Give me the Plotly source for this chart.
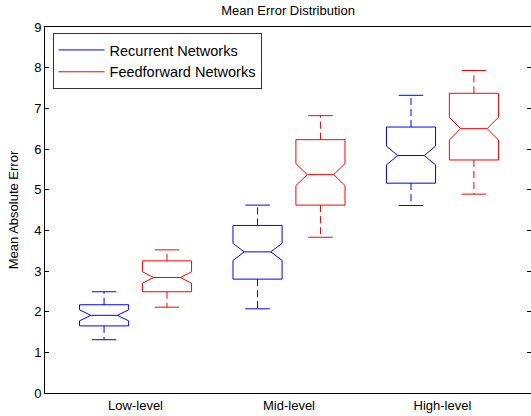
import plotly.graph_objects as go

categories = ["Low-level", "Mid-level", "High-level"]
series_names = ["Recurrent Networks", "Feedforward Networks"]
series_colors = ["#0000FF", "#FF0000"]

# Recurrent Networks
rec_lower = [1.31, 2.07, 4.61]
rec_q1 = [1.65, 2.80, 5.16]
rec_median = [1.91, 3.47, 5.84]
rec_q3 = [2.17, 4.12, 6.54]
rec_upper = [2.49, 4.62, 7.32]
rec_notch = [0.135, 0.21, 0.23]

# Feedforward Networks
ff_lower = [2.11, 3.83, 4.89]
ff_q1 = [2.49, 4.62, 5.73]
ff_median = [2.84, 5.37, 6.50]
ff_q3 = [3.25, 6.23, 7.37]
ff_upper = [3.52, 6.82, 7.93]
ff_notch = [0.14, 0.27, 0.28]

series = [
    (rec_lower, rec_q1, rec_median, rec_q3, rec_upper, rec_notch),
    (ff_lower, ff_q1, ff_median, ff_q3, ff_upper, ff_notch),
]

FONT = "Liberation Sans, Arial, sans-serif"
offsets = [-0.205, 0.205]
half_w = 0.16
indent = 0.46 * half_w
cap_w = 0.5 * half_w

fig = go.Figure()
for s, (lo, q1, med, q3, hi, nt) in enumerate(series):
    color = series_colors[s]
    xs, ys = [], []
    wx, wy = [], []
    for i in range(len(categories)):
        c = i + 1 + offsets[s]
        L, R = c - half_w, c + half_w
        # notched outline
        xs += [L, L, L + indent, L, L, R, R, R - indent, R, R, L, None]
        ys += [q1[i], med[i] - nt[i], med[i], med[i] + nt[i], q3[i], q3[i],
               med[i] + nt[i], med[i], med[i] - nt[i], q1[i], q1[i], None]
        # median
        xs += [L + indent, R - indent, None]
        ys += [med[i], med[i], None]
        # caps
        xs += [c - cap_w, c + cap_w, None, c - cap_w, c + cap_w, None]
        ys += [hi[i], hi[i], None, lo[i], lo[i], None]
        # whiskers (dashed)
        wx += [c, c, None, c, c, None]
        wy += [q3[i], hi[i], None, q1[i], lo[i], None]
    fig.add_trace(go.Scatter(x=xs, y=ys, mode="lines", name=series_names[s],
                             line=dict(color=color, width=1), hoverinfo="skip"))
    fig.add_trace(go.Scatter(x=wx, y=wy, mode="lines", showlegend=False,
                             line=dict(color=color, width=1, dash="7px,4px"),
                             hoverinfo="skip"))

fig.update_layout(
    width=531, height=416,
    margin=dict(l=45, r=0, t=27, b=23),
    paper_bgcolor="white", plot_bgcolor="white",
    font=dict(family=FONT, size=13, color="black"),
    title=dict(text="Mean Error Distribution", x=0.5425, xanchor="center",
               y=1 - 10 / 416, yanchor="middle", yref="container",
               font=dict(size=13, family=FONT, color="black")),
    showlegend=True,
    legend=dict(x=0.0155, y=0.9836, xanchor="left", yanchor="top",
                bordercolor="#333333", borderwidth=1, bgcolor="white",
                itemwidth=46, tracegroupgap=0,
                font=dict(size=14.5, family=FONT, color="black")),
)
fig.update_xaxes(range=[0.41, 3.577], tickvals=[1, 2, 3], ticktext=categories,
                 showline=True, linecolor="black", linewidth=1, mirror=True,
                 ticks="", showgrid=False, zeroline=False,
                 tickfont=dict(size=13, family=FONT))
fig.update_yaxes(range=[0, 9], dtick=1, tick0=0, showline=True, linecolor="black",
                 linewidth=1, mirror="ticks", ticks="inside", ticklen=4,
                 tickcolor="black", showgrid=False, zeroline=False,
                 title=dict(text="Mean Absolute Error", standoff=12,
                            font=dict(size=13, family=FONT)),
                 tickfont=dict(size=13, family=FONT))

fig.write_html("out.html")
